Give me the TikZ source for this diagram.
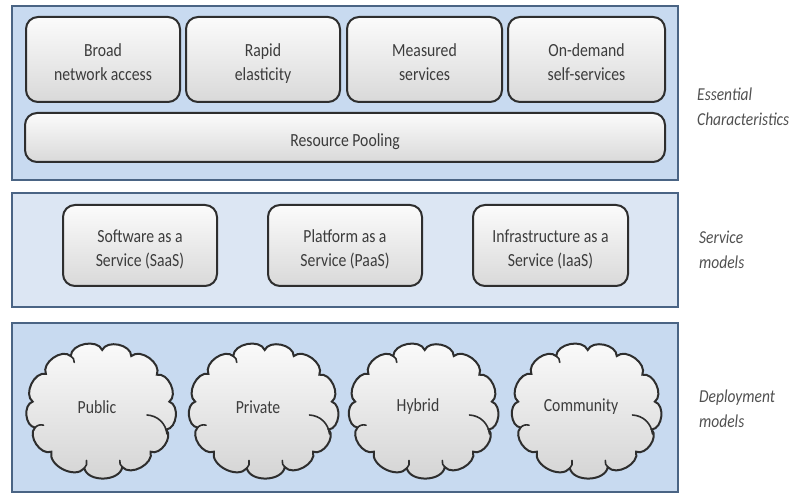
\documentclass[tikz,border=0pt]{standalone}
\usepackage{fontspec}
\setmainfont{Carlito}[FakeStretch=0.85]
\definecolor{panelfillA}{HTML}{C8DAF0}
\definecolor{panelfillB}{HTML}{DCE6F3}
\definecolor{paneledge}{HTML}{4A6484}
\definecolor{boxedge}{HTML}{2E2E2E}
\definecolor{txt}{HTML}{3C3C3C}
\definecolor{lbl}{HTML}{505050}
\newcommand\twolines[2]{\begin{tabular}[t]{@{}c@{}}#1\\#2\end{tabular}}
\begin{document}
\begin{tikzpicture}[x=1pt,y=-1pt,
  panel/.style={draw=paneledge, line width=2.6pt},
  cbox/.style={draw=boxedge, line width=2pt, rounded corners=12pt, top color=gray!3, bottom color=gray!30, text=txt, align=center, font=\fontsize{18.5}{23.5}\selectfont, inner sep=0pt},
  twobox/.style={cbox, text height=20pt, text depth=25pt},
  onebox/.style={cbox, text height=20pt, text depth=1pt},
  cloudfill/.style={draw=boxedge, line width=2pt, top color=gray!3, bottom color=gray!34},
  cloudcurl/.style={draw=boxedge, line width=1.6pt, line cap=round},
  cloudtext/.style={text=txt, font=\fontsize{18.5}{23}\selectfont, inner sep=0pt},
  sidelabel/.style={anchor=west, align=left, text=lbl, font=\itshape\fontsize{18.2}{25}\selectfont, inner sep=0pt},
  cloudpic/.pic={
    \path[cloudfill] (143:69pt and 60pt) to[bend left=78] (116:69pt and 60pt)
      to[bend left=78] (89:69pt and 60pt) to[bend left=78] (64:69pt and 60pt)
      to[bend left=78] (36:69pt and 60pt) to[bend left=78] (8:69pt and 60pt)
      to[bend left=78] (-19:69pt and 60pt) to[bend left=78] (-44:69pt and 60pt)
      to[bend left=78] (-72:69pt and 60pt) to[bend left=78] (-104:69pt and 60pt)
      to[bend left=78] (-136:69pt and 60pt) to[bend left=78] (-163:69pt and 60pt)
      to[bend left=78] (172:69pt and 60pt) to[bend left=78] cycle;
    \draw[cloudcurl] (46,5) to[bend left=40] (66,24);
    \draw[cloudcurl] (-163:69pt and 60pt) to[bend left=30] (-163:60pt and 52pt);
    \draw[cloudcurl] (-104:69pt and 60pt) to[bend right=30] (-104:60pt and 52pt);
    \draw[cloudcurl] (116:69pt and 60pt) to[bend left=30] (116:61pt and 53pt);
    \draw[cloudcurl] (-72:69pt and 60pt) to[bend left=30] (-72:61pt and 53pt);
  }
]
\useasboundingbox (0,0) rectangle (795,494);
% panels
\draw[panel, fill=panelfillA] (12,6) rectangle (678,180);
\draw[panel, fill=panelfillB] (12,193) rectangle (678,307);
\draw[panel, fill=panelfillA] (12,323) rectangle (678,492);
% essential characteristics
\node[twobox, minimum width=154pt, minimum height=85pt] (broad) at (103,59.5) {\twolines{Broad}{network access}};
\node[twobox, minimum width=154pt, minimum height=85pt] (rapid) at (263,59.5) {\twolines{Rapid}{elasticity}};
\node[twobox, minimum width=155pt, minimum height=85pt] (meas) at (424.5,59.5) {\twolines{Measured}{services}};
\node[twobox, minimum width=157pt, minimum height=85pt] (ondem) at (586.5,59.5) {\twolines{On-demand}{self-services}};
\node[onebox, minimum width=640pt, minimum height=49pt] (pool) at (345,137.5) {Resource Pooling};
% service models
\node[twobox, minimum width=154pt, minimum height=81pt] (saas) at (140,245.5) {\twolines{Software as a}{Service (SaaS)}};
\node[twobox, minimum width=154pt, minimum height=81pt] (paas) at (345,245.5) {\twolines{Platform as a}{Service (PaaS)}};
\node[twobox, minimum width=155pt, minimum height=81pt] (iaas) at (550.5,245.5) {\twolines{Infrastructure as a}{Service (IaaS)}};
% deployment models
\pic at (101,410) {cloudpic};
\pic at (263.5,410) {cloudpic};
\pic at (423.5,410) {cloudpic};
\pic at (586.5,410) {cloudpic};
\node[cloudtext] (public) at (97,407) {Public};
\node[cloudtext] (private) at (258,407) {Private};
\node[cloudtext] (hybrid) at (418,407) {Hybrid};
\node[cloudtext] (community) at (581,407) {Community};
% side labels
\node[sidelabel] (ec) at (697,107) {Essential\\Characteristics};
\node[sidelabel] (sm) at (699,249.5) {Service\\models};
\node[sidelabel] (dm) at (699,409) {Deployment\\models};
\end{tikzpicture}
\end{document}
